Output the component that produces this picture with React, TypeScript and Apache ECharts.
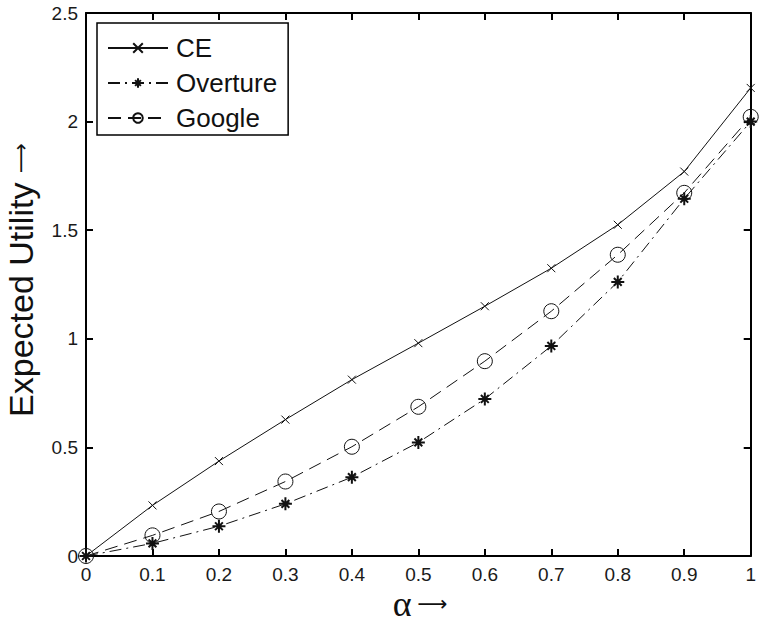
import React, { useEffect, useRef } from "react";
import * as echarts from "echarts";

const alphas = [0, 0.1, 0.2, 0.3, 0.4, 0.5, 0.6, 0.7, 0.8, 0.9, 1.0];
const ceValues = [0, 0.233, 0.437, 0.628, 0.812, 0.98, 1.15, 1.325, 1.525, 1.77, 2.155];
const overtureValues = [0, 0.058, 0.137, 0.24, 0.363, 0.523, 0.723, 0.967, 1.262, 1.645, 2.0];
const googleValues = [0, 0.095, 0.205, 0.343, 0.503, 0.687, 0.897, 1.127, 1.387, 1.672, 2.022];
const seriesNames = ["CE", "Overture", "Google"];
const xTitleSymbol = "α";
const yTitleText = "Expected Utility";
const arrow = "⟶";

const pairs = (ys: number[]) => alphas.map((a, i) => [a, ys[i]]);

export default function App() {
  const ref = useRef<HTMLDivElement>(null);
  useEffect(() => {
    if (!ref.current) return;
    const chart = echarts.init(ref.current, undefined, { renderer: "svg" });
    const font = "'Liberation Sans', Arial, sans-serif";
    const axisCommon = {
      min: 0,
      splitLine: { show: false },
      axisLine: { show: true, onZero: false, lineStyle: { color: "#000", width: 2 } },
      axisTick: { show: true, inside: true, length: 7, lineStyle: { color: "#000", width: 2 } },
    };
    chart.setOption({
      animation: false,
      backgroundColor: "#fff",
      grid: { left: 86, right: 2, top: 13, bottom: 68, containLabel: false },
      xAxis: [
        {
          type: "value",
          ...axisCommon,
          max: 1,
          interval: 0.1,
          position: "bottom",
          axisLabel: { fontSize: 19, color: "#1a1a1a", fontFamily: font, margin: 9 },
        },
        {
          type: "value",
          ...axisCommon,
          max: 1,
          interval: 0.1,
          position: "top",
          axisLabel: { show: false },
        },
      ],
      yAxis: [
        {
          type: "value",
          ...axisCommon,
          max: 2.5,
          interval: 0.5,
          position: "left",
          axisLabel: { fontSize: 19, color: "#1a1a1a", fontFamily: font, margin: 8 },
        },
        {
          type: "value",
          ...axisCommon,
          max: 2.5,
          interval: 0.5,
          position: "right",
          axisLabel: { show: false },
        },
      ],
      legend: {
        orient: "vertical",
        left: 97,
        top: 23,
        padding: [12, 11, 4, 10],
        itemGap: 9,
        itemWidth: 60,
        itemHeight: 12,
        borderColor: "#000",
        borderWidth: 1.5,
        backgroundColor: "#fff",
        textStyle: { fontSize: 26, color: "#111", fontFamily: font, padding: [0, 0, 0, 3] },
        data: seriesNames,
      },
      graphic: [
        {
          type: "text",
          x: 21,
          y: 280,
          rotation: Math.PI / 2,
          style: {
            text: yTitleText + " {a|" + arrow + "}",
            fontSize: 34,
            fontFamily: font,
            fill: "#111",
            align: "center",
            verticalAlign: "middle",
            rich: {
              a: { fontSize: 21, fontFamily: "'DejaVu Sans'", fill: "#111" },
            },
          },
        },
        {
          type: "text",
          x: 420,
          y: 604,
          style: {
            text: "{b|" + xTitleSymbol + "} {a|" + arrow + "}",
            fontSize: 20,
            fontFamily: font,
            fill: "#111",
            align: "center",
            verticalAlign: "middle",
            rich: {
              a: { fontSize: 21, fontFamily: "'DejaVu Sans'", fill: "#111" },
              b: { fontSize: 36, fontFamily: "'Liberation Serif'", fill: "#111" },
            },
          },
        },
      ],
      series: [
        {
          name: seriesNames[0],
          type: "line",
          data: pairs(ceValues),
          symbol: "path://M0,0L10,10M10,0L0,10",
          symbolSize: 8,
          showAllSymbol: true,
          lineStyle: { color: "#111", width: 1, type: "solid" },
          itemStyle: { color: "transparent", borderColor: "#111", borderWidth: 1 },
          z: 3,
        },
        {
          name: seriesNames[1],
          type: "line",
          data: pairs(overtureValues),
          symbol: "path://M5,0L5,10M0,5L10,5M2,2L8,8M8,2L2,8",
          symbolSize: 13,
          showAllSymbol: true,
          lineStyle: { color: "#111", width: 1, type: [12, 5, 2, 5] },
          itemStyle: { color: "transparent", borderColor: "#111", borderWidth: 2 },
          z: 2,
        },
        {
          name: seriesNames[2],
          type: "line",
          data: pairs(googleValues),
          symbol: "circle",
          symbolSize: 15,
          showAllSymbol: true,
          lineStyle: { color: "#111", width: 1, type: [13, 7] },
          itemStyle: { color: "transparent", borderColor: "#111", borderWidth: 1 },
          z: 2,
        },
      ],
    });
    return () => chart.dispose();
  }, []);
  return (
    <div
      ref={ref}
      style={{ position: "absolute", left: 0, top: 0, width: 759, height: 624 }}
    />
  );
}
